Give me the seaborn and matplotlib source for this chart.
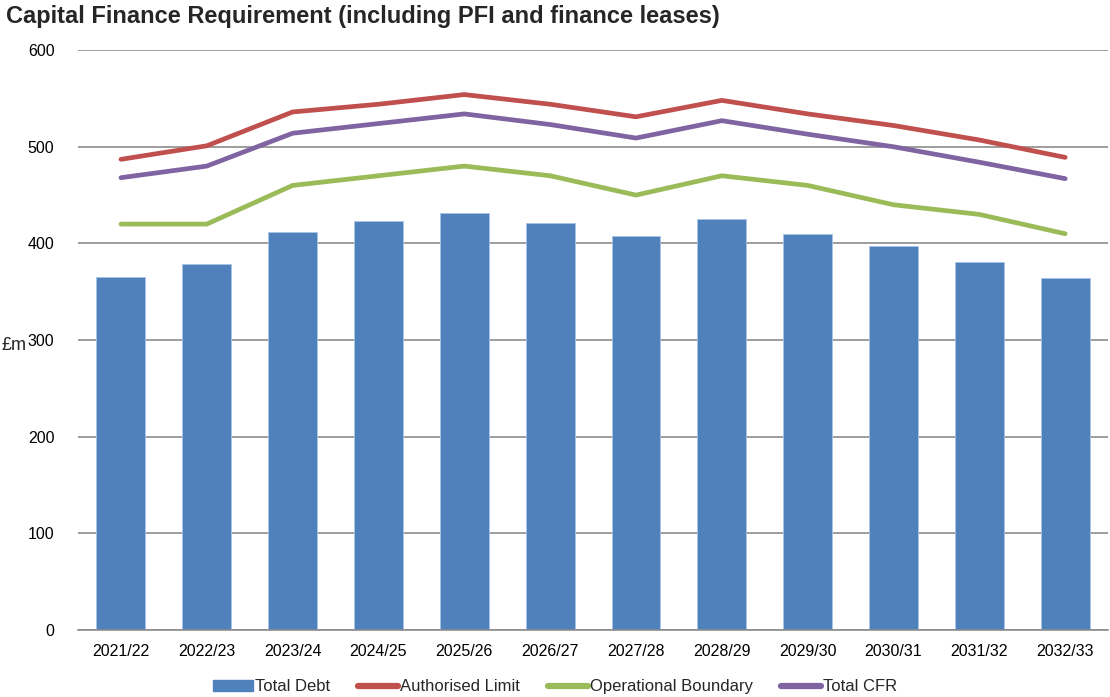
import matplotlib
matplotlib.use("Agg")
import matplotlib.pyplot as plt
import pandas as pd
import seaborn as sns
from matplotlib.lines import Line2D
from matplotlib.patches import Patch

years = ["2021/22", "2022/23", "2023/24", "2024/25", "2025/26", "2026/27",
         "2027/28", "2028/29", "2029/30", "2030/31", "2031/32", "2032/33"]
total_debt = [365, 379, 412, 423, 431, 421, 408, 425, 410, 397, 381, 364]
authorised_limit = [487, 501, 536, 544, 554, 544, 531, 548, 534, 522, 507, 489]
operational_boundary = [420, 420, 460, 470, 480, 470, 450, 470, 460, 440, 430, 410]
total_cfr = [468, 480, 514, 524, 534, 523, 509, 527, 513, 500, 484, 467]

line_names = ["Authorised Limit", "Operational Boundary", "Total CFR"]
line_colors = ["#C0504D", "#9BBB59", "#8064A2"]
bar_color = "#4F81BD"

sns.set_theme(style="white")
plt.rcParams["font.family"] = ["Liberation Sans Narrow", "Liberation Sans", "DejaVu Sans"]

bars = pd.DataFrame({"year": years, "value": total_debt})
lines = pd.DataFrame({
    "year": years * 3,
    "value": authorised_limit + operational_boundary + total_cfr,
    "series": [n for n in line_names for _ in years],
})

fig = plt.figure(figsize=(11.1, 6.97), dpi=100)
ax = fig.add_axes([0.0703, 0.0961, 0.928, 0.832])

sns.barplot(data=bars, x="year", y="value", color=bar_color, width=0.57,
            saturation=1, edgecolor="#A9C4E6", linewidth=0.6, ax=ax, zorder=2)
sns.lineplot(data=lines, x="year", y="value", hue="series", hue_order=line_names,
             palette=line_colors, linewidth=3.4, legend=False, ax=ax, zorder=3)

ax.set_xlim(-0.5, len(years) - 0.5)
ax.set_ylim(0, 600)
ax.set_yticks(range(0, 601, 100))
ax.yaxis.grid(True, color="#8C8C8C", linewidth=1.2)
ax.set_axisbelow(True)
for side in ["top", "right", "left"]:
    ax.spines[side].set_visible(False)
ax.spines["bottom"].set_color("#8C8C8C")
ax.spines["bottom"].set_linewidth(1.2)
ax.tick_params(axis="both", length=0, labelsize=11.5, colors="black")
ax.tick_params(axis="x", pad=10)
ax.tick_params(axis="y", pad=17)
ax.set_xlabel("")
ax.set_ylabel("£m", rotation=0, fontsize=13, va="center", ha="center")
ax.yaxis.set_label_coords(-0.062, 0.49)

fig.text(0.005, 0.976, "Capital Finance Requirement (including PFI and finance leases)",
         fontsize=17, fontweight="bold", ha="left", va="center")

handles = [Patch(color=bar_color)] + [Line2D([], [], color=c, linewidth=4.5) for c in line_colors]
fig.legend(handles, ["Total Debt"] + line_names, loc="center", bbox_to_anchor=(0.5, 0.0145),
           ncol=4, frameon=False, fontsize=12, handlelength=2.4, handleheight=0.55,
           handletextpad=0.1, columnspacing=1.7)

fig.savefig("out.png", dpi=100)
